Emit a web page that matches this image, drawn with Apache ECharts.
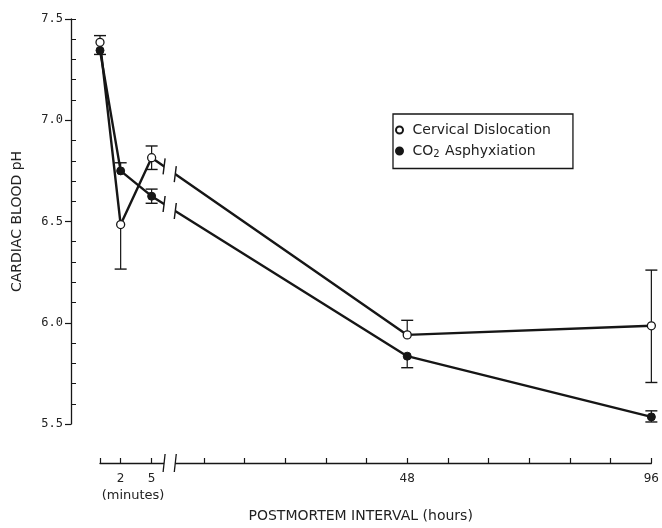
<!DOCTYPE html>
<html>
<head>
<meta charset="utf-8">
<script src="https://cdn.jsdelivr.net/npm/echarts@6/dist/echarts.min.js"></script>
<style>
html,body{margin:0;padding:0;background:#fff;}
#chart{width:662px;height:528px;}
</style>
</head>
<body>
<div id="chart"></div>
<script>
// ---- data ----
const timeUnits = ['min', 'min', 'min', 'h', 'h'];
const timeValues = [0, 2, 5, 48, 96];
const cervicalPH = [7.385, 6.485, 6.815, 5.94, 5.985];
const cervicalErrUp = [0.033, null, 0.058, 0.072, 0.275];
const cervicalErrDown = [null, 0.22, 0.058, null, 0.28];
const co2PH = [7.345, 6.75, 6.625, 5.835, 5.535];
const co2ErrUp = [null, 0.04, 0.035, null, 0.03];
const co2ErrDown = [0.02, null, 0.035, 0.057, 0.025];
const yTicks = [5.5, 6.0, 6.5, 7.0, 7.5];
const minuteTicks = [0, 2, 5];
const minuteTickLabels = ['', '2', '5'];
const hourTicks = [8, 16, 24, 32, 40, 48, 56, 64, 72, 80, 88, 96];
const hourTickLabels = ['', '', '', '', '', '48', '', '', '', '', '', '96'];
const seriesNames = ['Cervical Dislocation', 'CO2 Asphyxiation'];

// ---- broken axis mapping (minutes segment drawn before hours segment) ----
const MIN_ORIGIN = -12.4;  // axis units where minute 0 sits
const MIN_SCALE = 2.03;    // axis units per minute
function xPos(unit, v) { return unit === 'min' ? MIN_ORIGIN + v * MIN_SCALE : v; }

const tickPositions = minuteTicks.map(m => xPos('min', m)).concat(hourTicks);
const labelMap = new Map();
minuteTicks.forEach((m, i) => { if (minuteTickLabels[i]) labelMap.set(xPos('min', m), minuteTickLabels[i]); });
hourTicks.forEach((h, i) => { if (hourTickLabels[i]) labelMap.set(h, hourTickLabels[i]); });
const labelPositions = Array.from(labelMap.keys());
const minutesCaptionPos = xPos('min', 3.2);

// minor y ticks (every 0.1) plus an inside tick at the top value
const yMinor = [];
for (let i = 0; i < yTicks.length - 1; i++) {
  for (let k = 1; k < 5; k++) yMinor.push(+(yTicks[i] + k * (yTicks[i + 1] - yTicks[i]) / 5).toFixed(2));
}
yMinor.push(yTicks[yTicks.length - 1]);

const xs = timeValues.map((v, i) => xPos(timeUnits[i], v));
const cervData = xs.map((x, i) => [x, cervicalPH[i]]);
const co2Data = xs.map((x, i) => [x, co2PH[i]]);

const INK = '#161616';
const FONT = 'DejaVu Sans';

function errRenderer(vals, ups, downs) {
  return function (params, api) {
    const i = params.dataIndex;
    const x = api.value(0), y = vals[i];
    const up = ups[i], dn = downs[i];
    const c = api.coord([x, y]);
    const hi = up != null ? api.coord([x, y + up])[1] : c[1];
    const lo = dn != null ? api.coord([x, y - dn])[1] : c[1];
    const cap = 6;
    const children = [{
      type: 'line', shape: {x1: c[0], y1: hi, x2: c[0], y2: lo},
      style: {stroke: INK, lineWidth: 1.2}
    }];
    if (up != null) children.push({type: 'line', shape: {x1: c[0] - cap, y1: hi, x2: c[0] + cap, y2: hi}, style: {stroke: INK, lineWidth: 1.4}});
    if (dn != null) children.push({type: 'line', shape: {x1: c[0] - cap, y1: lo, x2: c[0] + cap, y2: lo}, style: {stroke: INK, lineWidth: 1.4}});
    return {type: 'group', children: children};
  };
}

const chart = echarts.init(document.getElementById('chart'), null, {renderer: 'canvas'});
const option = {
  backgroundColor: '#fff',
  animation: false,
  grid: {left: 100, right: 9, top: 19, bottom: 99, containLabel: false},
  legend: {
    left: 393, top: 114, orient: 'vertical',
    data: [{name: seriesNames[0], icon: 'circle'}, {name: seriesNames[1], icon: 'circle'}],
    itemWidth: 16, itemHeight: 7, itemGap: 7,
    padding: [9, 22, 9, 2],
    borderColor: INK, borderWidth: 1.3,
    formatter: n => n === 'CO2 Asphyxiation' ? 'CO{sub|2} Asphyxiation' : n,
    textStyle: {
      fontFamily: FONT, fontSize: 14, color: '#222',
      rich: {sub: {fontFamily: FONT, fontSize: 10, color: '#222', padding: [7, 1, 0, 0]}}
    }
  },
  xAxis: [{
    type: 'value', min: xPos('min', 0), max: hourTicks[hourTicks.length - 1],
    position: 'bottom', offset: 39,
    axisLine: {show: true, onZero: false, lineStyle: {color: INK, width: 1.3}},
    axisTick: {show: true, inside: true, length: 5, customValues: tickPositions, lineStyle: {color: INK, width: 1.2}},
    axisLabel: {show: true, customValues: labelPositions, formatter: v => labelMap.get(v) || '', margin: 10,
      fontFamily: FONT, fontSize: 12, color: '#222'},
    splitLine: {show: false},
    name: 'POSTMORTEM INTERVAL (hours)', nameLocation: 'middle', nameGap: 46,
    nameTextStyle: {fontFamily: FONT, fontSize: 14, color: '#222', padding: [0, 30, 0, 0]}
  }, {
    type: 'value', min: xPos('min', 0), max: hourTicks[hourTicks.length - 1],
    position: 'bottom', offset: 39,
    axisLine: {show: false, onZero: false}, axisTick: {show: false}, splitLine: {show: false},
    axisLabel: {show: true, customValues: [minutesCaptionPos], formatter: () => '(minutes)', margin: 26,
      fontFamily: FONT, fontSize: 13, color: '#222'}
  }],
  yAxis: [{
    type: 'value', min: yTicks[0], max: yTicks[yTicks.length - 1], interval: 0.5,
    position: 'left', offset: 29,
    axisLine: {show: true, onZero: false, lineStyle: {color: INK, width: 1.3}},
    axisTick: {show: true, inside: false, length: 6, lineStyle: {color: INK, width: 1.2}},
    axisLabel: {formatter: v => v.toFixed(1), margin: 8, fontFamily: 'DejaVu Sans Mono', fontSize: 12, color: '#222'},
    splitLine: {show: false},
    name: 'CARDIAC BLOOD pH', nameLocation: 'middle', nameRotate: 90, nameGap: 47,
    nameTextStyle: {fontFamily: FONT, fontSize: 14, color: '#222'}
  }, {
    type: 'value', min: yTicks[0], max: yTicks[yTicks.length - 1], interval: 0.5,
    position: 'left', offset: 29,
    axisLine: {show: false, onZero: false},
    axisTick: {show: true, inside: true, length: 5, customValues: yMinor, lineStyle: {color: INK, width: 1}},
    axisLabel: {show: false},
    splitLine: {show: false}
  }],
  series: [
    {
      type: 'custom', name: 'cervErr', xAxisIndex: 0, yAxisIndex: 0, z: 2, silent: true, clip: false,
      data: cervData, renderItem: errRenderer(cervicalPH, cervicalErrUp, cervicalErrDown)
    },
    {
      type: 'custom', name: 'co2Err', xAxisIndex: 0, yAxisIndex: 0, z: 2, silent: true, clip: false,
      data: co2Data, renderItem: errRenderer(co2PH, co2ErrUp, co2ErrDown)
    },
    {
      type: 'line', name: seriesNames[1], xAxisIndex: 0, yAxisIndex: 0, z: 3, clip: false,
      data: co2Data, symbol: 'circle', symbolSize: 8, showAllSymbol: true,
      lineStyle: {color: INK, width: 2.4},
      itemStyle: {color: INK, borderColor: INK, borderWidth: 1}
    },
    {
      type: 'line', name: seriesNames[0], xAxisIndex: 0, yAxisIndex: 0, z: 4, clip: false,
      data: cervData, symbol: 'circle', symbolSize: 8, showAllSymbol: true,
      lineStyle: {color: INK, width: 2.4},
      itemStyle: {color: '#fff', borderColor: INK, borderWidth: 1.3}
    }
  ]
};
chart.setOption(option);

// ---- axis-break decorations, positioned through the axes ----
function breakGraphics() {
  const g = [];
  const px = v => chart.convertToPixel({xAxisIndex: 0}, v);
  const bx1 = px(0.2), bx2 = px(2.4);
  const yBottom = chart.convertToPixel({yAxisIndex: 0}, yTicks[0]);
  const yTop = chart.convertToPixel({yAxisIndex: 0}, yTicks[yTicks.length - 1]);
  const axisY = yBottom + 39;
  g.push({type: 'rect', z: 100, shape: {x: bx1, y: yTop, width: bx2 - bx1, height: axisY + 14 - yTop},
    style: {fill: '#fff'}, silent: true});
  [bx1, bx2].forEach(bx => g.push({type: 'line', z: 101, silent: true,
    shape: {x1: bx + 1, y1: axisY - 9, x2: bx - 1, y2: axisY + 9}, style: {stroke: INK, lineWidth: 1.3}}));
  [cervData, co2Data].forEach(d => {
    const a = chart.convertToPixel({gridIndex: 0}, d[2]);
    const b = chart.convertToPixel({gridIndex: 0}, d[3]);
    [bx1, bx2].forEach(bx => {
      const t = (bx - a[0]) / (b[0] - a[0]);
      const yy = a[1] + t * (b[1] - a[1]);
      g.push({type: 'line', z: 101, silent: true,
        shape: {x1: bx + 1, y1: yy - 8, x2: bx - 1, y2: yy + 8}, style: {stroke: INK, lineWidth: 1.4}});
    });
  });
  return g;
}
chart.setOption({graphic: {elements: breakGraphics()}});
</script>
</body>
</html>
